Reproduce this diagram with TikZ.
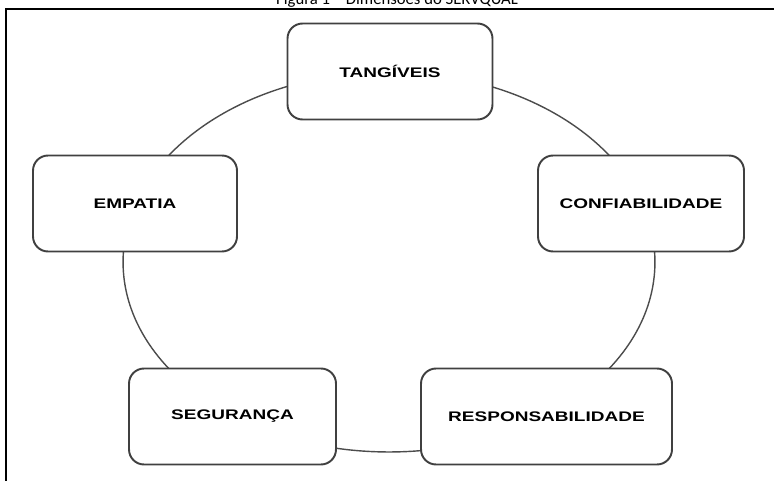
\documentclass[tikz,border=0pt]{standalone}
\usepackage{fontspec}
\setmainfont{Liberation Sans}
\newfontfamily\titlefont{Carlito}
\usetikzlibrary{positioning}
\newcommand{\widetxt}[1]{\scalebox{1.37}[1]{#1}}

\begin{document}
\begin{tikzpicture}[x=0.02cm, y=-0.02cm,
    dim/.style={draw=black!75, line width=1.1pt, rounded corners=0.3cm, fill=white,
      inner sep=0pt, minimum height=1.92cm, font=\fontsize{7.9}{9}\selectfont\bfseries}]
  \useasboundingbox (0,0) rectangle (774,480);

  % caption, cut by the page
  \node[anchor=base, inner sep=0pt, font=\titlefont\fontsize{9.5}{11}\selectfont] (caption) at (397,4.5) {Figura 1 – Dimensões do SERVQUAL};
  \draw[line width=1.2pt] (6,9) rectangle (800,500);

  % ring behind the boxes
  \coordinate (ring) at (389,262);
  \draw[black!70, line width=0.8pt] (ring) ellipse (5.32cm and 3.8cm);

  \node[dim, minimum width=4.1cm] (tangiveis) at (390,71.5) {\widetxt{TANGÍVEIS}};
  \node[dim, minimum width=4.08cm] (empatia) at (135,203.5) {\widetxt{EMPATIA}};
  \node[dim, minimum width=4.12cm] (confiab) at (641,203.5) {\widetxt{CONFIABILIDADE}};
  \node[dim, minimum width=4.14cm] (seguranca) at (232.5,416.5) {\widetxt{SEGURANÇA}};
  \node[dim, minimum width=5.02cm] (respons) at (546.5,416.5) {\widetxt{RESPONSABILIDADE}};
\end{tikzpicture}
\end{document}
